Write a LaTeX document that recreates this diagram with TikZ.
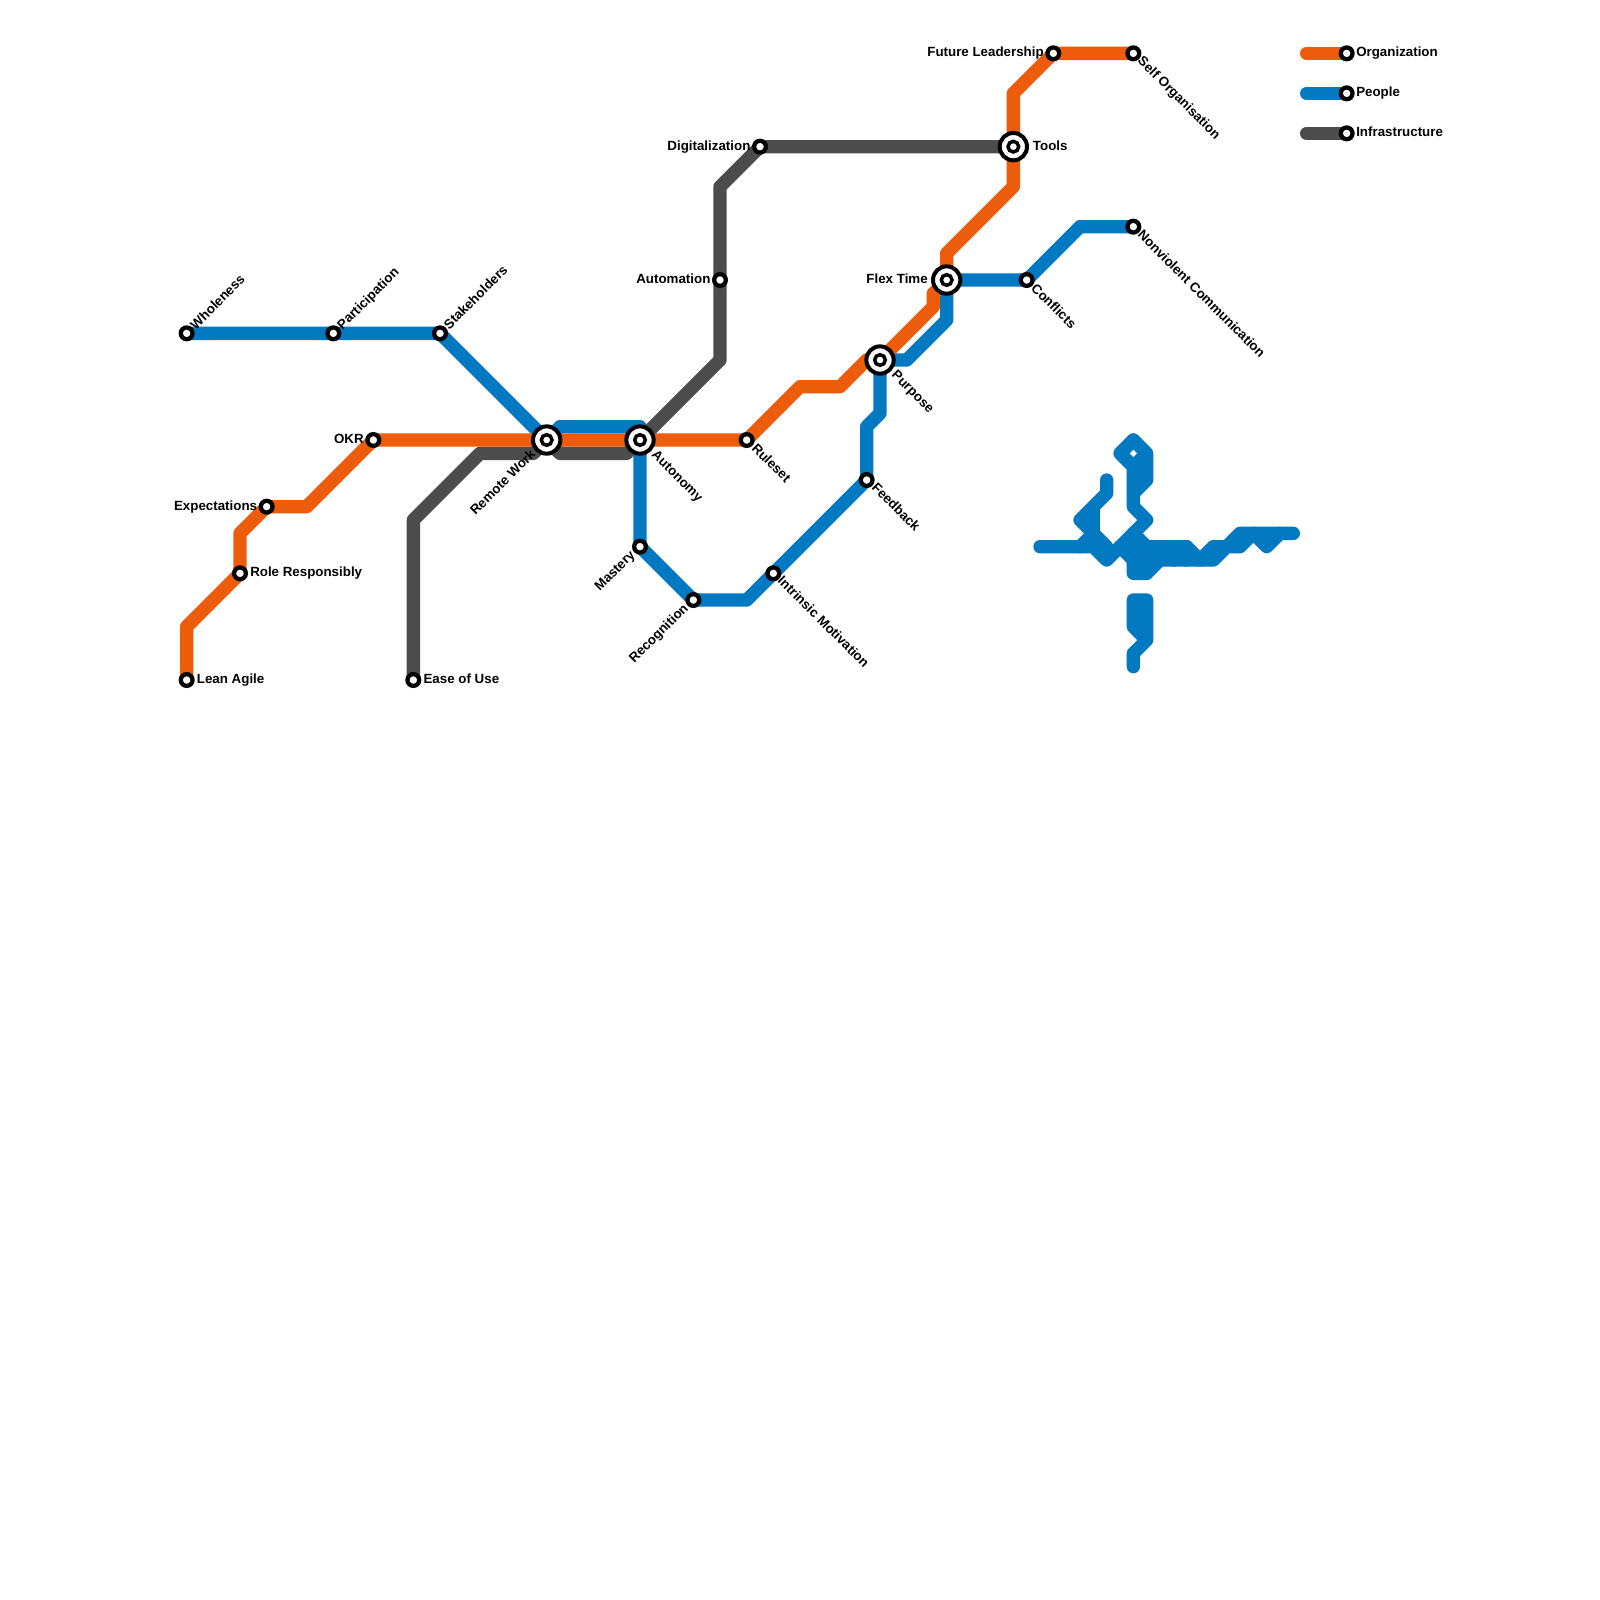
\documentclass[tikz,border=0pt]{standalone}
\usepackage{fontspec}
\setmainfont{Liberation Sans}
\usetikzlibrary{backgrounds}
\definecolor{orgc}{HTML}{EC5C0B}
\definecolor{pplc}{HTML}{0279C0}
\definecolor{infc}{HTML}{4C4C4C}
\tikzset{
  stn/.style={circle,draw=black,fill=white,line width=3.2pt,inner sep=0pt,minimum size=8.8pt},
  hubring/.style={circle,draw=black,fill=white,line width=3pt,inner sep=0pt,minimum size=20.5pt},
  hubcore/.style={circle,draw=black,fill=white,line width=2.6pt,inner sep=0pt,minimum size=8pt},
  metro/.style={line width=10pt,line cap=round,line join=round},
  orgline/.style={metro,draw=orgc},
  pplline/.style={metro,draw=pplc},
  infline/.style={metro,draw=infc},
  lab/.style={inner sep=0pt,text=black,text height=7.2pt,text depth=2.1pt,font=\fontsize{10}{12}\selectfont\bfseries},
  labr/.style={lab,anchor=west},
  labl/.style={lab,anchor=east},
  labup/.style={lab,anchor=west,rotate=45},
  labdn/.style={lab,anchor=west,rotate=-45},
  lablo/.style={lab,anchor=east,rotate=45},
}
\begin{document}
\begin{tikzpicture}[x=10pt,y=-10pt]
\useasboundingbox (0,0) rectangle (120,120);
% stations
\node[stn] (whole) at (14,25) {};
\node[stn] (parti) at (25,25) {};
\node[stn] (stake) at (33,25) {};
\node[stn] (okr) at (28,33) {};
\node[stn] (expec) at (20,38) {};
\node[stn] (role) at (18,43) {};
\node[stn] (lean) at (14,51) {};
\node[stn] (ease) at (31,51) {};
\node[stn] (maste) at (48,41) {};
\node[stn] (recog) at (52,45) {};
\node[stn] (intri) at (58,43) {};
\node[stn] (feedb) at (65,36) {};
\node[stn] (rules) at (56,33) {};
\node[stn] (confl) at (77,21) {};
\node[stn] (nonvi) at (85,17) {};
\node[stn] (digit) at (57,11) {};
\node[stn] (autom) at (54,21) {};
\node[stn] (futur) at (79,4) {};
\node[stn] (selfo) at (85,4) {};
\node[hubring] (remot) at (41,33) {};
\node[hubcore] (remoti) at (remot.center) {};
\node[hubring] (auton) at (48,33) {};
\node[hubcore] (autoni) at (auton.center) {};
\node[hubring] (purpo) at (66,27) {};
\node[hubcore] (purpoi) at (purpo.center) {};
\node[hubring] (flext) at (71,21) {};
\node[hubcore] (flexti) at (flext.center) {};
\node[hubring] (tools) at (76,11) {};
\node[hubcore] (toolsi) at (tools.center) {};
\node[stn] (legorg) at (101,4) {};
\node[stn] (legppl) at (101,7) {};
\node[stn] (leginf) at (101,10) {};
% bends
\coordinate (o1) at (14,47);
\coordinate (o2) at (18,40);
\coordinate (o3) at (23,38);
\coordinate (o4) at (60,29);
\coordinate (o5) at (63,29);
\coordinate (o5b) at (65,27);
\coordinate (o6) at (70,23);
\coordinate (o7) at (70,22);
\coordinate (o9) at (71,19);
\coordinate (o10) at (76,14);
\coordinate (o11) at (76,7);
\coordinate (b1) at (42,32);
\coordinate (b2) at (48,32);
\coordinate (b3) at (56,45);
\coordinate (b4) at (65,32);
\coordinate (b5) at (66,31);
\coordinate (b6) at (68,27);
\coordinate (b7) at (71,24);
\coordinate (b8) at (81,17);
\coordinate (g1) at (31,39);
\coordinate (g2) at (36,34);
\coordinate (g3) at (40,34);
\coordinate (g4) at (42,34);
\coordinate (g5) at (47,34);
\coordinate (g6) at (54,27);
\coordinate (g7) at (54,14);
\coordinate (legorgs) at (98,4);
\coordinate (legppls) at (98,7);
\coordinate (leginfs) at (98,10);
% lines
\begin{scope}[on background layer]
\fill[white] (0,0) rectangle (120,120);
\draw[infline] (ease.center) -- (g1) -- (g2) -- (g3) -- (remot.center) -- (g4) -- (g5) -- (auton.center) -- (g6) -- (autom.center) -- (g7) -- (digit.center) -- (tools.center);
\draw[pplline] (whole.center) -- (parti.center) -- (stake.center) -- (remot.center) -- (b1) -- (b2) -- (auton.center) -- (maste.center) -- (recog.center) -- (b3) -- (intri.center) -- (feedb.center) -- (b4) -- (b5) -- (purpo.center) -- (b6) -- (b7) -- (flext.center) -- (confl.center) -- (b8) -- (nonvi.center);
% the tangled stretch of the blue line
\draw[pplline] (78,41) -- (82,41) -- (83,42) -- (84,41) -- (89,41) -- (90,42) -- (91,41) -- (92,41) -- (93,40) -- (97,40);
\draw[pplline] (83,36) -- (83,37) -- (81,39) -- (83,41) (82,38) -- (82,40) -- (81,41);
\draw[pplline] (85,33) -- (84,34) -- (85,35) -- (85,38) -- (86,39) -- (84,41);
\draw[pplline] (85,33) -- (86,34) -- (86,36) -- (85,37) (85,35) -- (86,34) (85,36) -- (86,36);
\draw[pplline] (85,40) -- (86,41) (84,41) -- (85,42) -- (85,43) -- (86,43) -- (87,42) -- (91,42) -- (92,41) -- (93,41) -- (94,40) -- (95,41) -- (96,40);
\draw[pplline] (85,41) -- (85,42) (86,41) -- (86,43) (87,41) -- (87,42) (85,42) -- (87,42) (88,41) -- (88,42) (89,41) -- (89,42);
\draw[pplline] (85,50) -- (85,49) -- (86,48) -- (86,45) -- (85,45) -- (85,47) -- (86,48) (85,46) -- (86,46) (85,47) -- (86,47);
\draw[orgline] (lean.center) -- (o1) -- (role.center) -- (o2) -- (expec.center) -- (o3) -- (okr.center) -- (remot.center) -- (auton.center) -- (rules.center) -- (o4) -- (o5) -- (o5b) -- (purpo.center) -- (o6) -- (o7) -- (flext.center) -- (o9) -- (o10) -- (tools.center);
\draw[orgline] (tools.center) -- (o11) -- (futur.center) -- (selfo.center);
\draw[orgline] (legorgs) -- (legorg.center);
\draw[pplline] (legppls) -- (legppl.center);
\draw[infline] (leginfs) -- (leginf.center);
\end{scope}
% labels
\node[labup] (lwhole) at (14.5,24.6) {Wholeness};
\node[labup] (lparti) at (25.5,24.6) {Participation};
\node[labup] (lstake) at (33.5,24.6) {Stakeholders};
\node[labl] (lokr) at (27.3,33) {OKR};
\node[labl] (lexpec) at (19.3,38) {Expectations};
\node[labr] (lrole) at (18.75,43) {Role Responsibly};
\node[labr] (llean) at (14.75,51) {Lean Agile};
\node[labr] (lease) at (31.75,51) {Ease of Use};
\node[lablo] (lremot) at (40.05,33.95) {Remote Work};
\node[labdn] (lauton) at (49,34) {Autonomy};
\node[lablo] (lmaste) at (47.5,41.5) {Mastery};
\node[lablo] (lrecog) at (51.5,45.5) {Recognition};
\node[labdn] (lintri) at (58.45,43.45) {Intrinsic Motivation};
\node[labdn] (lfeedb) at (65.5,36.45) {Feedback};
\node[labdn] (lrules) at (56.5,33.5) {Ruleset};
\node[labdn] (lpurpo) at (67,28) {Purpose};
\node[labl] (lflext) at (69.6,21) {Flex Time};
\node[labdn] (lconfl) at (77.45,21.5) {Conflicts};
\node[labdn] (lnonvi) at (85.45,17.5) {Nonviolent Communication};
\node[labr] (ltools) at (77.45,11) {Tools};
\node[labl] (ldigit) at (56.3,11) {Digitalization};
\node[labl] (lautom) at (53.3,21) {Automation};
\node[labl] (lfutur) at (78.3,4) {Future Leadership};
\node[labdn] (lselfo) at (85.45,4.45) {Self Organisation};
\node[labr] (lleg1) at (101.7,4) {Organization};
\node[labr] (lleg2) at (101.7,7) {People};
\node[labr] (lleg3) at (101.7,10) {Infrastructure};
\end{tikzpicture}
\end{document}
